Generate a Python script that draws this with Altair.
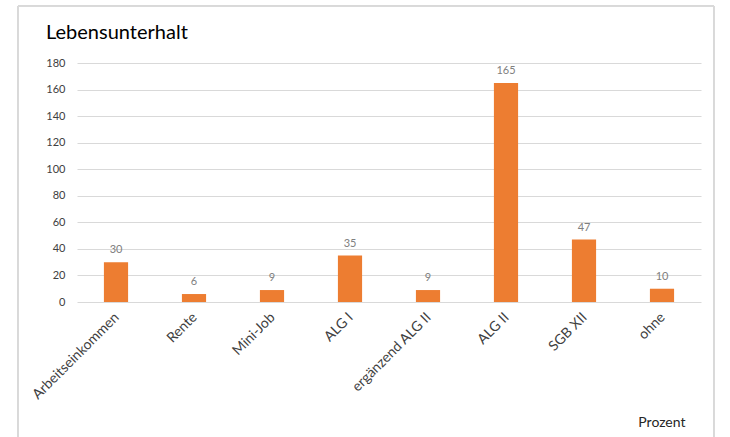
import altair as alt
import pandas as pd

# Sources of livelihood (Lebensunterhalt)
categories = ["Arbeitseinkommen", "Rente", "Mini-Job", "ALG I",
              "ergänzend ALG II", "ALG II", "SGB XII", "ohne"]
values = [30, 6, 9, 35, 9, 165, 47, 10]
y_ticks = [0, 20, 40, 60, 80, 100, 120, 140, 160, 180]

df = pd.DataFrame({"Kategorie": categories, "Wert": values})

FONT = "Lato"
ORANGE = "#ED7D31"

x_enc = alt.X(
    "Kategorie:N",
    sort=categories,
    scale=alt.Scale(paddingInner=0.69, paddingOuter=0.345),
    axis=alt.Axis(
        title="Prozent",
        titleFont=FONT,
        titleFontSize=14,
        titleFontWeight="normal",
        titleColor="#262626",
        titleAlign="right",
        titleAnchor="end",
        titleBaseline="alphabetic",
        titleX=608,
        titleY=124,
        labelAngle=-45,
        labelFont=FONT,
        labelFontSize=14,
        labelColor="#404040",
        labelPadding=8,
        labelOffset=-4,
        domain=False,
        ticks=False,
        grid=False,
    ),
)
y_enc = alt.Y(
    "Wert:Q",
    scale=alt.Scale(domain=[0, 180], nice=False),
    axis=alt.Axis(
        title=None,
        values=y_ticks,
        labelOverlap=False,
        labelFont=FONT,
        labelFontSize=11,
        labelColor="#404040",
        labelPadding=12,
        domain=False,
        ticks=False,
        grid=True,
        gridColor="#D9D9D9",
        gridWidth=1,
    ),
)

base = alt.Chart(df).encode(x=x_enc, y=y_enc)

bars = base.mark_bar(color=ORANGE)

labels = base.mark_text(
    font=FONT, fontSize=11, color="#808080", baseline="bottom", dy=-7
).encode(text="Wert:Q")

# light frame around the whole chart
frame = alt.Chart(df).mark_rect(
    fillOpacity=0, stroke="#D9D9D9", strokeWidth=1, clip=False
).encode(
    x=alt.value(-59), x2=alt.value(637), y=alt.value(-57), y2=alt.value(440)
)

chart = (
    alt.layer(bars, labels, frame)
    .properties(
        width=624,
        height=239,
        autosize=alt.AutoSizeParams(type="none"),
        padding={"left": 77, "top": 63, "right": 29, "bottom": 135},
        view=alt.ViewBackground(stroke="transparent", strokeWidth=0),
        title=alt.TitleParams(
            "Lebensunterhalt",
            font=FONT,
            fontSize=20,
            fontWeight="normal",
            color="#000000",
            anchor="start",
            frame="group",
            dx=-31,
            offset=-37,
        ),
    )
    .configure_view(stroke="transparent", strokeWidth=0)
    .configure(background="white")
)

chart.save("out.html", embed_options={"renderer": "svg", "actions": False})
